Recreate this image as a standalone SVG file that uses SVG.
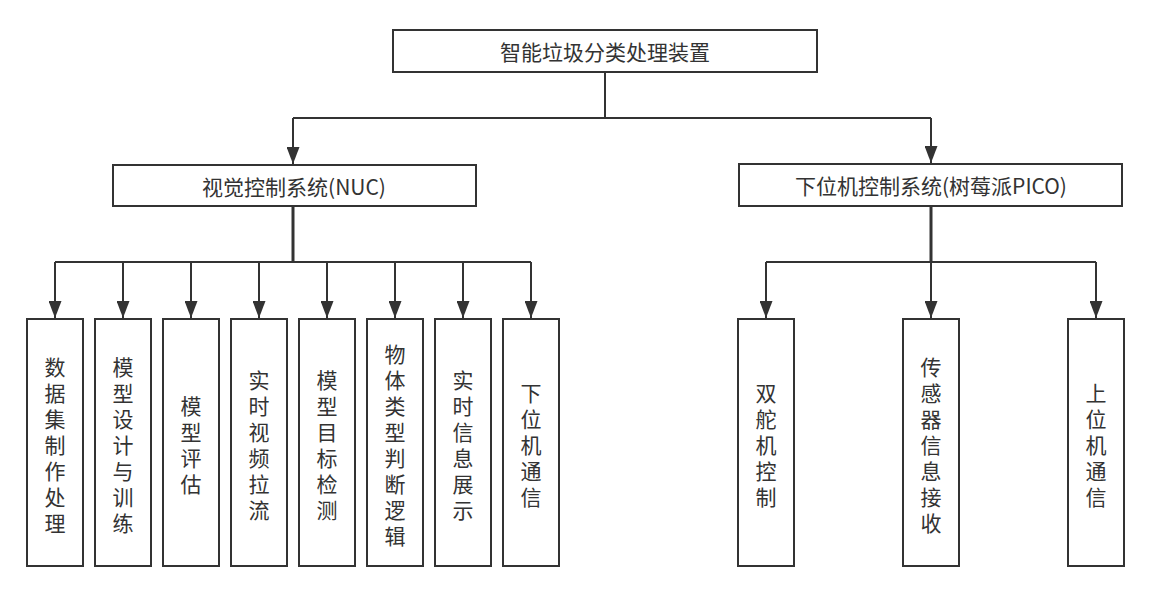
<svg xmlns="http://www.w3.org/2000/svg" width="1154" height="591" viewBox="0 0 1154 591">
<style>
.box{fill:#fff;stroke:#333;stroke-width:2}
.t{font-family:"Noto Sans CJK SC","Noto Sans",sans-serif;font-size:21px;fill:#333;text-anchor:middle;dominant-baseline:central}
.c{fill:none;stroke:#333;stroke-width:2}
.s{fill:none;stroke:#333;stroke-width:3}
</style>
<defs>
<marker id="ah" markerUnits="userSpaceOnUse" markerWidth="17" markerHeight="13" refX="17" refY="6.5" orient="auto">
<path d="M0,0 L17,6.5 L0,13 z" fill="#333"/>
</marker>
</defs>
<rect width="1154" height="591" fill="#fff"/>
<g id="connectors">
<path class="c" d="M605,72 V118"/>
<path class="c" d="M293,118 H931"/>
<path class="c" d="M293,118 V164" marker-end="url(#ah)"/>
<path class="c" d="M931,118 V163" marker-end="url(#ah)"/>
<path class="s" d="M293,206 V262"/>
<path class="c" d="M55,262 H531"/>
<path class="c" d="M55,262 V318" marker-end="url(#ah)"/>
<path class="c" d="M123,262 V318" marker-end="url(#ah)"/>
<path class="c" d="M191,262 V318" marker-end="url(#ah)"/>
<path class="c" d="M259,262 V318" marker-end="url(#ah)"/>
<path class="c" d="M327,262 V318" marker-end="url(#ah)"/>
<path class="c" d="M395,262 V318" marker-end="url(#ah)"/>
<path class="c" d="M463,262 V318" marker-end="url(#ah)"/>
<path class="c" d="M531,262 V318" marker-end="url(#ah)"/>
<path class="s" d="M931,206 V262"/>
<path class="c" d="M766,262 H1096"/>
<path class="c" d="M766,262 V318" marker-end="url(#ah)"/>
<path class="c" d="M931,262 V318" marker-end="url(#ah)"/>
<path class="c" d="M1096,262 V318" marker-end="url(#ah)"/>
</g>
<g id="root"><rect class="box" x="393" y="30" width="424" height="42"/><text class="t" x="605" y="51">智能垃圾分类处理装置</text></g>
<g id="vision"><rect class="box" x="113" y="165" width="363" height="41"/><text class="t" x="294" y="185.5">视觉控制系统(NUC)</text></g>
<g id="lower"><rect class="box" x="739" y="164" width="383" height="42"/><text class="t" x="931" y="185">下位机控制系统(树莓派PICO)</text></g>

<g id="n1"><rect class="box" x="27" y="319" width="56" height="247"/><text class="t"><tspan x="55" y="366">数</tspan><tspan x="55" dy="26">据</tspan><tspan x="55" dy="26">集</tspan><tspan x="55" dy="26">制</tspan><tspan x="55" dy="26">作</tspan><tspan x="55" dy="26">处</tspan><tspan x="55" dy="26">理</tspan></text></g>
<g id="n2"><rect class="box" x="95" y="319" width="56" height="247"/><text class="t"><tspan x="123" y="366">模</tspan><tspan x="123" dy="26">型</tspan><tspan x="123" dy="26">设</tspan><tspan x="123" dy="26">计</tspan><tspan x="123" dy="26">与</tspan><tspan x="123" dy="26">训</tspan><tspan x="123" dy="26">练</tspan></text></g>
<g id="n3"><rect class="box" x="163" y="319" width="56" height="247"/><text class="t"><tspan x="191" y="405">模</tspan><tspan x="191" dy="26">型</tspan><tspan x="191" dy="26">评</tspan><tspan x="191" dy="26">估</tspan></text></g>
<g id="n4"><rect class="box" x="231" y="319" width="56" height="247"/><text class="t"><tspan x="259" y="379">实</tspan><tspan x="259" dy="26">时</tspan><tspan x="259" dy="26">视</tspan><tspan x="259" dy="26">频</tspan><tspan x="259" dy="26">拉</tspan><tspan x="259" dy="26">流</tspan></text></g>
<g id="n5"><rect class="box" x="299" y="319" width="56" height="247"/><text class="t"><tspan x="327" y="379">模</tspan><tspan x="327" dy="26">型</tspan><tspan x="327" dy="26">目</tspan><tspan x="327" dy="26">标</tspan><tspan x="327" dy="26">检</tspan><tspan x="327" dy="26">测</tspan></text></g>
<g id="n6"><rect class="box" x="367" y="319" width="56" height="247"/><text class="t"><tspan x="395" y="353">物</tspan><tspan x="395" dy="26">体</tspan><tspan x="395" dy="26">类</tspan><tspan x="395" dy="26">型</tspan><tspan x="395" dy="26">判</tspan><tspan x="395" dy="26">断</tspan><tspan x="395" dy="26">逻</tspan><tspan x="395" dy="26">辑</tspan></text></g>
<g id="n7"><rect class="box" x="435" y="319" width="56" height="247"/><text class="t"><tspan x="463" y="379">实</tspan><tspan x="463" dy="26">时</tspan><tspan x="463" dy="26">信</tspan><tspan x="463" dy="26">息</tspan><tspan x="463" dy="26">展</tspan><tspan x="463" dy="26">示</tspan></text></g>
<g id="n8"><rect class="box" x="503" y="319" width="56" height="247"/><text class="t"><tspan x="531" y="392">下</tspan><tspan x="531" dy="26">位</tspan><tspan x="531" dy="26">机</tspan><tspan x="531" dy="26">通</tspan><tspan x="531" dy="26">信</tspan></text></g>

<g id="r1"><rect class="box" x="738" y="319" width="56" height="247"/><text class="t"><tspan x="766" y="392">双</tspan><tspan x="766" dy="26">舵</tspan><tspan x="766" dy="26">机</tspan><tspan x="766" dy="26">控</tspan><tspan x="766" dy="26">制</tspan></text></g>
<g id="r2"><rect class="box" x="903" y="319" width="56" height="247"/><text class="t"><tspan x="931" y="366">传</tspan><tspan x="931" dy="26">感</tspan><tspan x="931" dy="26">器</tspan><tspan x="931" dy="26">信</tspan><tspan x="931" dy="26">息</tspan><tspan x="931" dy="26">接</tspan><tspan x="931" dy="26">收</tspan></text></g>
<g id="r3"><rect class="box" x="1068" y="319" width="56" height="247"/><text class="t"><tspan x="1096" y="392">上</tspan><tspan x="1096" dy="26">位</tspan><tspan x="1096" dy="26">机</tspan><tspan x="1096" dy="26">通</tspan><tspan x="1096" dy="26">信</tspan></text></g>
</svg>
